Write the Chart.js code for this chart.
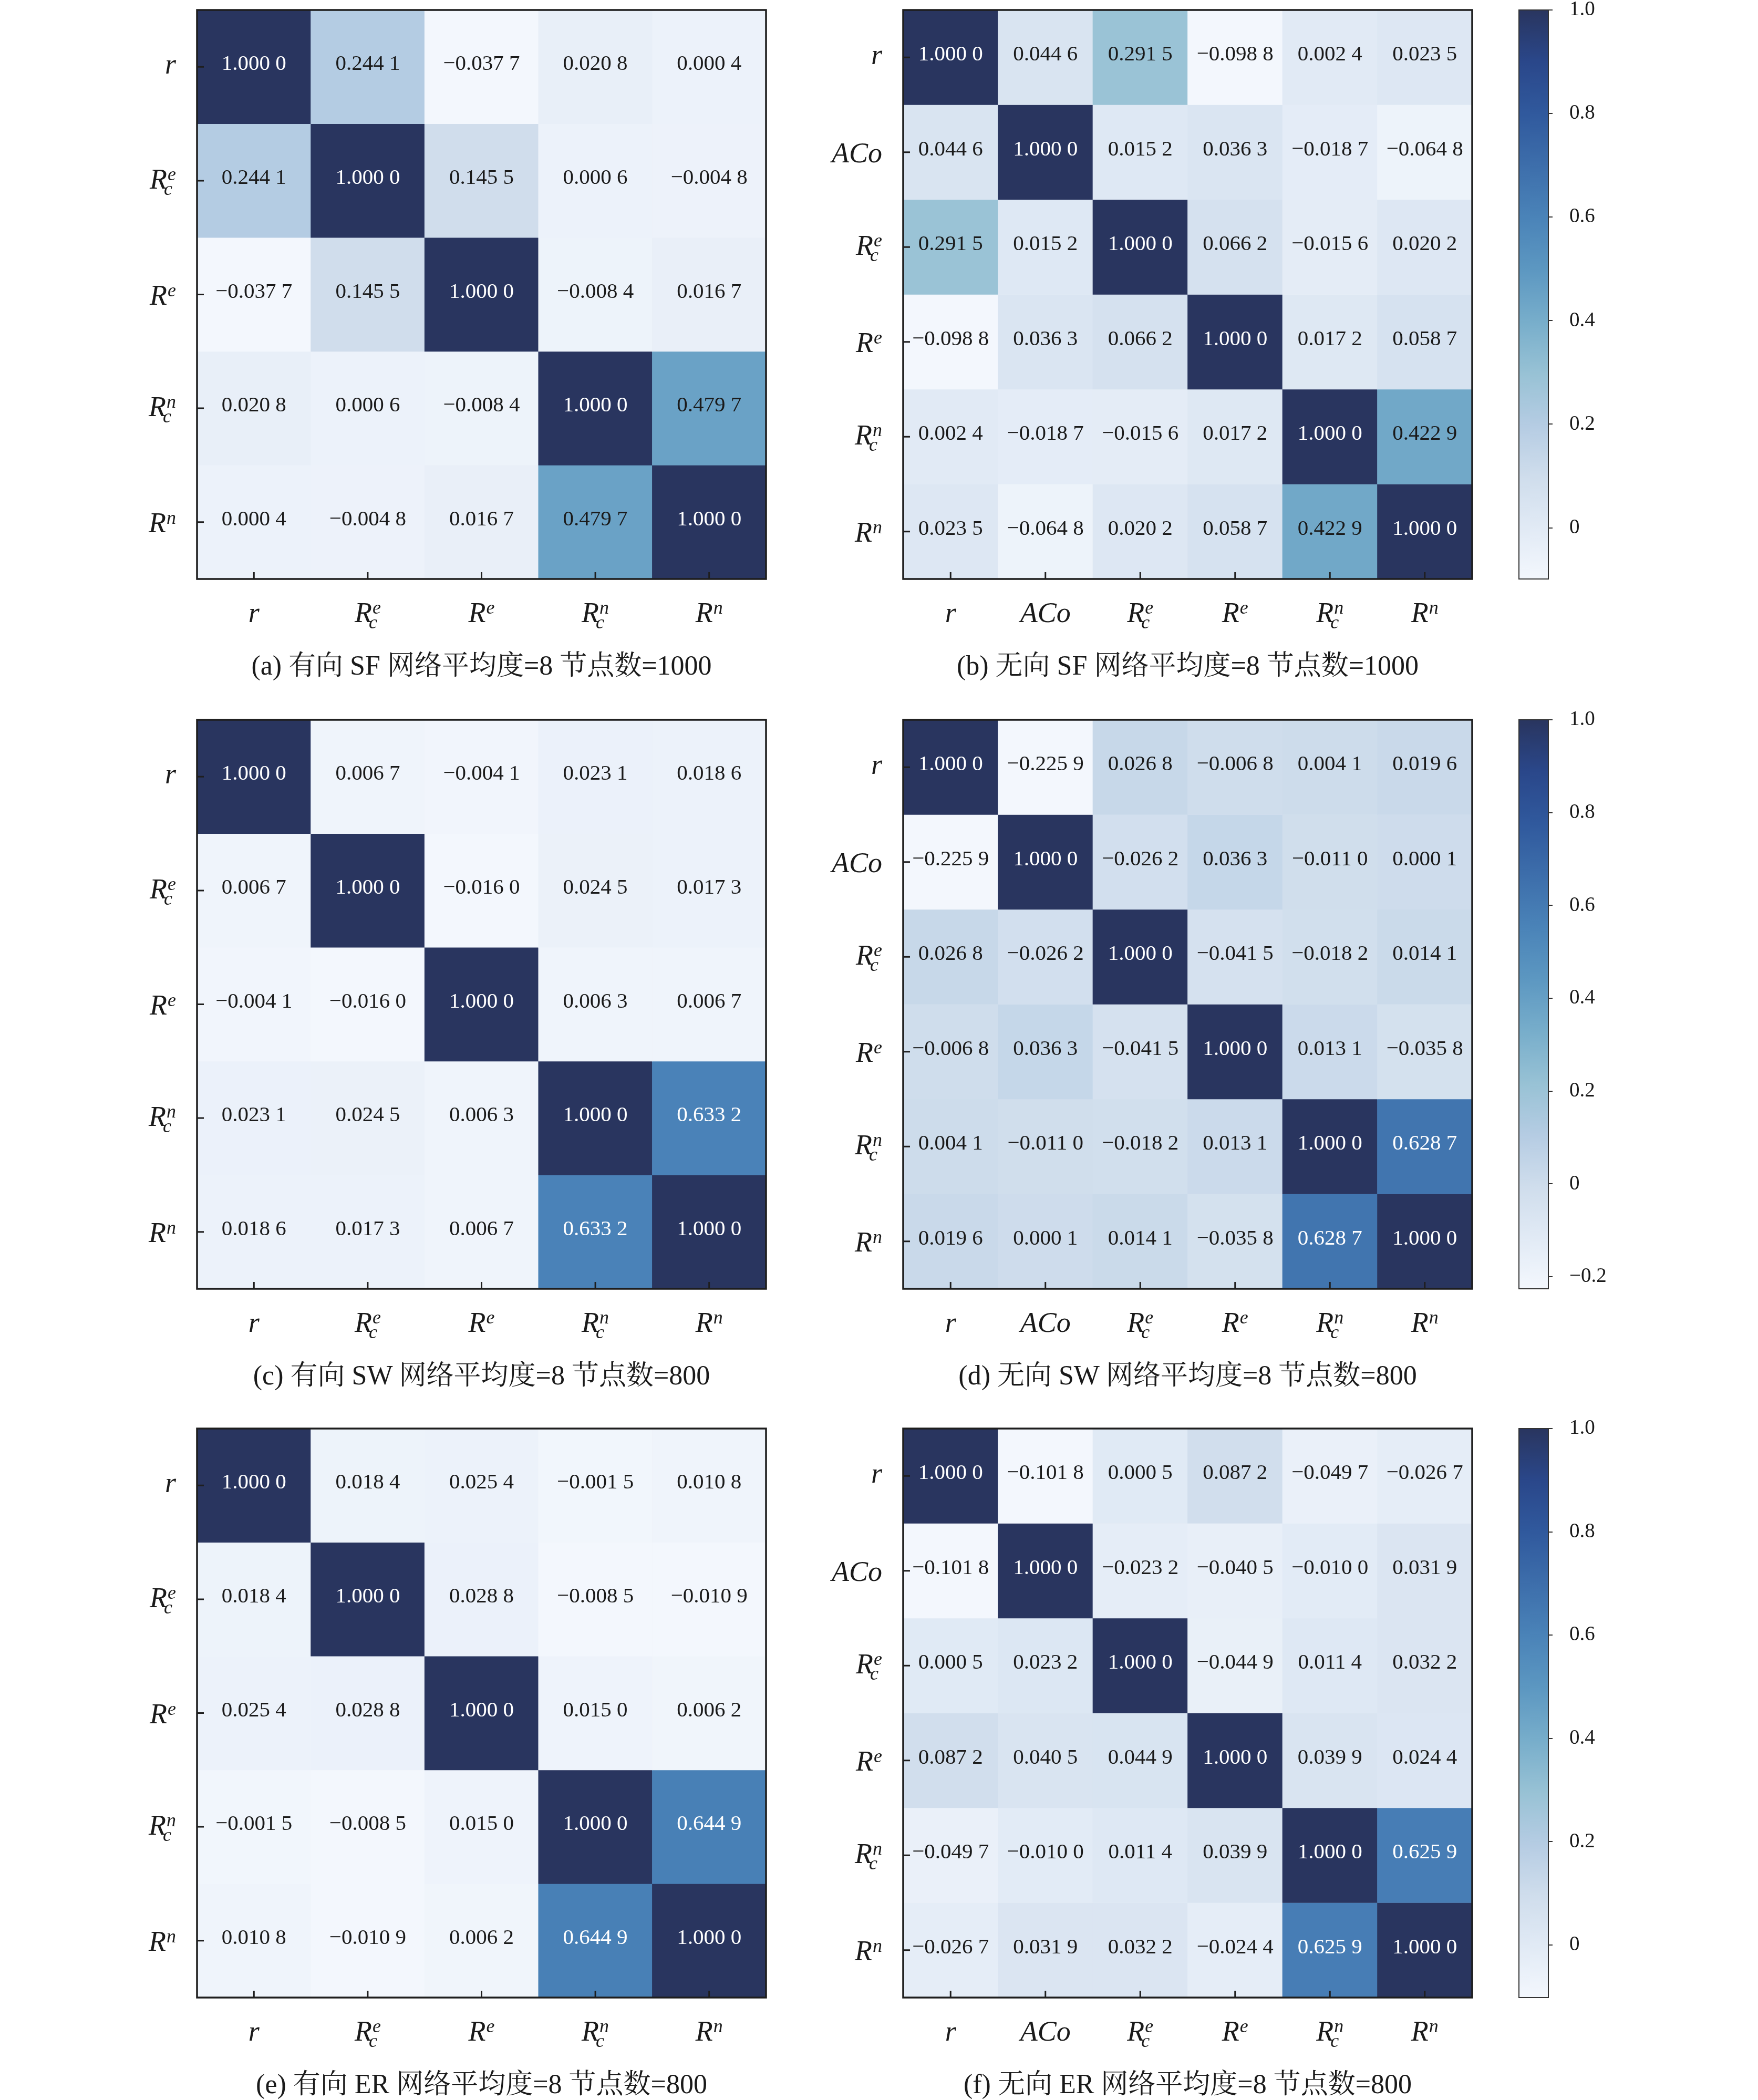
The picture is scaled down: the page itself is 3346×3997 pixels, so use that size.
<!DOCTYPE html>
<html>
<head>
<meta charset="utf-8">
<script src="https://cdn.jsdelivr.net/npm/chart.js@4.4.1/dist/chart.umd.min.js"></script>
<style>
  html, body { margin: 0; padding: 0; background: #fff; }
  body { width: 3346px; height: 3997px; position: relative; overflow: hidden; }
  canvas { position: absolute; }
  .cap {
    position: absolute; width: 1083px; height: 80px; line-height: 80px;
    text-align: center; white-space: nowrap; font-size: 52px; color: #1a1a1a;
    font-family: "Liberation Serif", "Noto Serif CJK SC", "Noto Sans CJK SC", serif;
  }
</style>
</head>
<body>

<canvas id="ha" width="1303" height="1233"></canvas>
<canvas id="hb" width="1303" height="1233"></canvas>
<canvas id="hc" width="1303" height="1233"></canvas>
<canvas id="hd" width="1303" height="1233"></canvas>
<canvas id="he" width="1303" height="1233"></canvas>
<canvas id="hf" width="1303" height="1233"></canvas>
<canvas id="cb1" width="226" height="1243"></canvas>
<canvas id="cb2" width="226" height="1243"></canvas>
<canvas id="cb3" width="226" height="1243"></canvas>

<div class="cap" id="capa">(a) 有向 SF 网络平均度=8 节点数=1000</div>
<div class="cap" id="capb">(b) 无向 SF 网络平均度=8 节点数=1000</div>
<div class="cap" id="capc">(c) 有向 SW 网络平均度=8 节点数=800</div>
<div class="cap" id="capd">(d) 无向 SW 网络平均度=8 节点数=800</div>
<div class="cap" id="cape">(e) 有向 ER 网络平均度=8 节点数=800</div>
<div class="cap" id="capf">(f) 无向 ER 网络平均度=8 节点数=800</div>

<script>
// labels
const directedLabels = ['r', 'Rce', 'Re', 'Rcn', 'Rn'];
const undirectedLabels = ['r', 'ACo', 'Rce', 'Re', 'Rcn', 'Rn'];

// correlation matrices (rows top to bottom)
const sfDirected = [
  [1.0000, 0.2441, -0.0377, 0.0208, 0.0004],
  [0.2441, 1.0000, 0.1455, 0.0006, -0.0048],
  [-0.0377, 0.1455, 1.0000, -0.0084, 0.0167],
  [0.0208, 0.0006, -0.0084, 1.0000, 0.4797],
  [0.0004, -0.0048, 0.0167, 0.4797, 1.0000]
];
const sfUndirected = [
  [1.0000, 0.0446, 0.2915, -0.0988, 0.0024, 0.0235],
  [0.0446, 1.0000, 0.0152, 0.0363, -0.0187, -0.0648],
  [0.2915, 0.0152, 1.0000, 0.0662, -0.0156, 0.0202],
  [-0.0988, 0.0363, 0.0662, 1.0000, 0.0172, 0.0587],
  [0.0024, -0.0187, -0.0156, 0.0172, 1.0000, 0.4229],
  [0.0235, -0.0648, 0.0202, 0.0587, 0.4229, 1.0000]
];
const swDirected = [
  [1.0000, 0.0067, -0.0041, 0.0231, 0.0186],
  [0.0067, 1.0000, -0.0160, 0.0245, 0.0173],
  [-0.0041, -0.0160, 1.0000, 0.0063, 0.0067],
  [0.0231, 0.0245, 0.0063, 1.0000, 0.6332],
  [0.0186, 0.0173, 0.0067, 0.6332, 1.0000]
];
const swUndirected = [
  [1.0000, -0.2259, 0.0268, -0.0068, 0.0041, 0.0196],
  [-0.2259, 1.0000, -0.0262, 0.0363, -0.0110, 0.0001],
  [0.0268, -0.0262, 1.0000, -0.0415, -0.0182, 0.0141],
  [-0.0068, 0.0363, -0.0415, 1.0000, 0.0131, -0.0358],
  [0.0041, -0.0110, -0.0182, 0.0131, 1.0000, 0.6287],
  [0.0196, 0.0001, 0.0141, -0.0358, 0.6287, 1.0000]
];
const erDirected = [
  [1.0000, 0.0184, 0.0254, -0.0015, 0.0108],
  [0.0184, 1.0000, 0.0288, -0.0085, -0.0109],
  [0.0254, 0.0288, 1.0000, 0.0150, 0.0062],
  [-0.0015, -0.0085, 0.0150, 1.0000, 0.6449],
  [0.0108, -0.0109, 0.0062, 0.6449, 1.0000]
];
const erUndirected = [
  [1.0000, -0.1018, 0.0005, 0.0872, -0.0497, -0.0267],
  [-0.1018, 1.0000, -0.0232, -0.0405, -0.0100, 0.0319],
  [0.0005, 0.0232, 1.0000, -0.0449, 0.0114, 0.0322],
  [0.0872, 0.0405, 0.0449, 1.0000, 0.0399, 0.0244],
  [-0.0497, -0.0100, 0.0114, 0.0399, 1.0000, 0.6259],
  [-0.0267, 0.0319, 0.0322, -0.0244, 0.6259, 1.0000]
];

// colorbar ticks
const ticksSF = [0, 0.2, 0.4, 0.6, 0.8, 1.0];
const ticksSW = [-0.2, 0, 0.2, 0.4, 0.6, 0.8, 1.0];
const ticksER = [0, 0.2, 0.4, 0.6, 0.8, 1.0];

// colour map stops (position, colour)
const cmapStops = [
  [0.00, '#f3f7fd'], [0.09, '#e1eaf5'], [0.18, '#cfddec'], [0.27, '#b5cce3'],
  [0.36, '#98c2d5'], [0.45, '#78aecb'], [0.545, '#5c97c1'], [0.636, '#4a83b8'],
  [0.727, '#3d6eab'], [0.818, '#30599d'], [0.909, '#2a478a'], [1.00, '#29355f']
];

const PLOT = 1083;
const rowTops = [19, 1370, 2719];
const leftX = 375, rightX = 1719, cbX = 2891;
const PADL = 200, PADT = 20, PADR = 20, PADB = 130;
const CBPAD = 80;

function hex(c) {
  return [parseInt(c.substr(1, 2), 16), parseInt(c.substr(3, 2), 16), parseInt(c.substr(5, 2), 16)];
}

function cmap(t) {
  t = Math.max(0, Math.min(1, t));
  for (let k = 1; k < cmapStops.length; k++) {
    if (t <= cmapStops[k][0]) {
      const a = cmapStops[k - 1], b = cmapStops[k];
      const f = (t - a[0]) / (b[0] - a[0]);
      const ca = hex(a[1]), cb = hex(b[1]);
      const m = ca.map((v, i) => Math.round(v + (cb[i] - v) * f));
      return 'rgb(' + m.join(',') + ')';
    }
  }
  return cmapStops[cmapStops.length - 1][1];
}

function fmt(v) {
  const s = Math.abs(v).toFixed(4);
  return (v < 0 ? '\u2212' : '') + s.slice(0, 5) + ' ' + s.slice(5);
}

// label pieces: base, subscript, superscript
const labelParts = {
  r: ['r', '', ''],
  ACo: ['ACo', '', ''],
  Rce: ['R', 'c', 'e'],
  Re: ['R', '', 'e'],
  Rcn: ['R', 'c', 'n'],
  Rn: ['R', '', 'n']
};
const BASEFONT = "italic 54px 'Liberation Serif'";
const SMALLFONT = "italic 36px 'Liberation Serif'";

function labelWidth(ctx, p) {
  ctx.font = BASEFONT;
  const wb = ctx.measureText(p[0]).width;
  ctx.font = SMALLFONT;
  const ws = p[1] ? ctx.measureText(p[1]).width - 6 : 0;
  const wp = p[2] ? ctx.measureText(p[2]).width + 1 : 0;
  return wb + Math.max(ws, wp);
}

function drawLabel(ctx, key, x, baseline) {
  const p = labelParts[key];
  ctx.textAlign = 'left';
  ctx.textBaseline = 'alphabetic';
  ctx.fillStyle = '#1a1a1a';
  ctx.font = BASEFONT;
  ctx.fillText(p[0], x, baseline);
  const wb = ctx.measureText(p[0]).width;
  ctx.font = SMALLFONT;
  if (p[2]) ctx.fillText(p[2], x + wb + 1, baseline - 16);
  if (p[1]) ctx.fillText(p[1], x + wb - 6, baseline + 12);
}

function yLabelShift(key) {
  const p = labelParts[key];
  if (p[0] === 'r') return 13;
  if (p[1]) return 15;
  return 19;
}

const heatPlugin = {
  id: 'heatDecor',
  afterDatasetsDraw(chart) {
    const ctx = chart.ctx;
    const area = chart.chartArea;
    const xs = chart.scales.x, ys = chart.scales.y;
    const mat = chart.options.plugins.heatDecor.matrix;
    const labs = chart.options.plugins.heatDecor.labels;
    const lo = Math.min(...mat.flat()), hi = Math.max(...mat.flat());
    ctx.save();
    // values
    ctx.font = "41px 'Liberation Serif'";
    ctx.textAlign = 'center';
    ctx.textBaseline = 'alphabetic';
    mat.forEach((row, i) => {
      row.forEach((v, j) => {
        const t = (v - lo) / (hi - lo);
        ctx.fillStyle = t > 0.6 ? '#ffffff' : '#1a1a1a';
        ctx.fillText(fmt(v), xs.getPixelForValue(j), ys.getPixelForValue(i + 0.5) + 6);
      });
    });
    // frame
    ctx.strokeStyle = '#1e1e1e';
    ctx.lineWidth = 3.5;
    ctx.strokeRect(area.left, area.top, area.right - area.left, area.bottom - area.top);
    // inward ticks
    ctx.lineWidth = 3;
    ctx.beginPath();
    labs.forEach((k, i) => {
      const y = ys.getPixelForValue(i + 0.5);
      ctx.moveTo(area.left, y);
      ctx.lineTo(area.left + 13, y);
      const x = xs.getPixelForValue(i);
      ctx.moveTo(x, area.bottom);
      ctx.lineTo(x, area.bottom - 13);
    });
    ctx.stroke();
    // axis labels
    labs.forEach((k, i) => {
      const w = labelWidth(ctx, labelParts[k]);
      const y = ys.getPixelForValue(i + 0.5);
      drawLabel(ctx, k, area.left - 40 - w, y + yLabelShift(k));
      const x = xs.getPixelForValue(i);
      drawLabel(ctx, k, x - w / 2, area.bottom + 82);
    });
    ctx.restore();
  }
};

function makeHeatmap(id, labels, matrix, left, top) {
  const cv = document.getElementById(id);
  cv.style.left = (left - PADL) + 'px';
  cv.style.top = (top - PADT) + 'px';
  const lo = Math.min(...matrix.flat()), hi = Math.max(...matrix.flat());
  const datasets = matrix.map((row) => ({
    data: row.map(() => 1),
    backgroundColor: row.map(v => cmap((v - lo) / (hi - lo))),
    borderWidth: 0,
    barPercentage: 1,
    categoryPercentage: 1
  }));
  new Chart(cv, {
    type: 'bar',
    data: { labels: labels, datasets: datasets },
    options: {
      responsive: false,
      animation: false,
      layout: { padding: { left: PADL, top: PADT, right: PADR, bottom: PADB } },
      scales: {
        x: {
          type: 'category', stacked: true,
          grid: { display: false }, border: { display: false },
          ticks: { display: false },
          afterFit: s => { s.height = 0; }
        },
        y: {
          type: 'linear', stacked: true, min: 0, max: labels.length, reverse: true,
          grid: { display: false }, border: { display: false },
          ticks: { display: false },
          afterFit: s => { s.width = 0; }
        }
      },
      plugins: {
        legend: { display: false },
        tooltip: { enabled: false },
        heatDecor: { matrix: matrix, labels: labels }
      }
    },
    plugins: [heatPlugin]
  });
}

const cbPlugin = {
  id: 'cbFrame',
  afterDatasetsDraw(chart) {
    const a = chart.chartArea;
    const ctx = chart.ctx;
    ctx.save();
    ctx.strokeStyle = '#333';
    ctx.lineWidth = 2;
    ctx.strokeRect(a.left, a.top, a.right - a.left, a.bottom - a.top);
    ctx.restore();
  }
};

function makeColorbar(id, matrix, ticks, top) {
  const cv = document.getElementById(id);
  cv.style.left = (cbX - 10) + 'px';
  cv.style.top = (top - CBPAD) + 'px';
  const lo = Math.min(...matrix.flat()), hi = Math.max(...matrix.flat());
  new Chart(cv, {
    type: 'bar',
    data: {
      labels: ['cb'],
      datasets: [{
        data: [[lo, hi]],
        borderWidth: 0,
        barPercentage: 1,
        categoryPercentage: 1,
        backgroundColor: (c) => {
          const ch = c.chart;
          if (!ch.chartArea) return '#ccc';
          const y = ch.scales.y;
          const g = ch.ctx.createLinearGradient(0, y.getPixelForValue(lo), 0, y.getPixelForValue(hi));
          cmapStops.forEach(s => g.addColorStop(s[0], s[1]));
          return g;
        }
      }]
    },
    options: {
      responsive: false,
      animation: false,
      layout: { padding: { left: 10, top: CBPAD, right: 10, bottom: CBPAD } },
      scales: {
        x: { display: false },
        y: {
          position: 'right', min: lo, max: hi,
          afterBuildTicks: s => { s.ticks = ticks.map(v => ({ value: v })); },
          afterFit: s => { s.width = 150; },
          grid: { drawOnChartArea: false, drawTicks: true, tickLength: 8, color: '#333', lineWidth: 2 },
          border: { display: false },
          ticks: {
            padding: 32,
            color: '#1a1a1a',
            font: { family: 'Liberation Serif', size: 39 },
            callback: v => {
              if (Math.abs(v - 1) < 1e-9) return '1.0';
              if (Math.abs(v) < 1e-9) return '0';
              return (v < 0 ? '\u2212' : '') + Math.abs(v).toFixed(1);
            }
          }
        }
      },
      plugins: { legend: { display: false }, tooltip: { enabled: false } }
    },
    plugins: [cbPlugin]
  });
}

makeHeatmap('ha', directedLabels, sfDirected, leftX, rowTops[0]);
makeHeatmap('hb', undirectedLabels, sfUndirected, rightX, rowTops[0]);
makeHeatmap('hc', directedLabels, swDirected, leftX, rowTops[1]);
makeHeatmap('hd', undirectedLabels, swUndirected, rightX, rowTops[1]);
makeHeatmap('he', directedLabels, erDirected, leftX, rowTops[2]);
makeHeatmap('hf', undirectedLabels, erUndirected, rightX, rowTops[2]);

makeColorbar('cb1', sfUndirected, ticksSF, rowTops[0]);
makeColorbar('cb2', swUndirected, ticksSW, rowTops[1]);
makeColorbar('cb3', erUndirected, ticksER, rowTops[2]);

// captions under each panel
const caps = [['capa', leftX, 0], ['capb', rightX, 0], ['capc', leftX, 1],
              ['capd', rightX, 1], ['cape', leftX, 2], ['capf', rightX, 2]];
caps.forEach(c => {
  const el = document.getElementById(c[0]);
  el.style.left = c[1] + 'px';
  el.style.top = (rowTops[c[2]] + PLOT + 165 - 40) + 'px';
});
</script>
</body>
</html>
